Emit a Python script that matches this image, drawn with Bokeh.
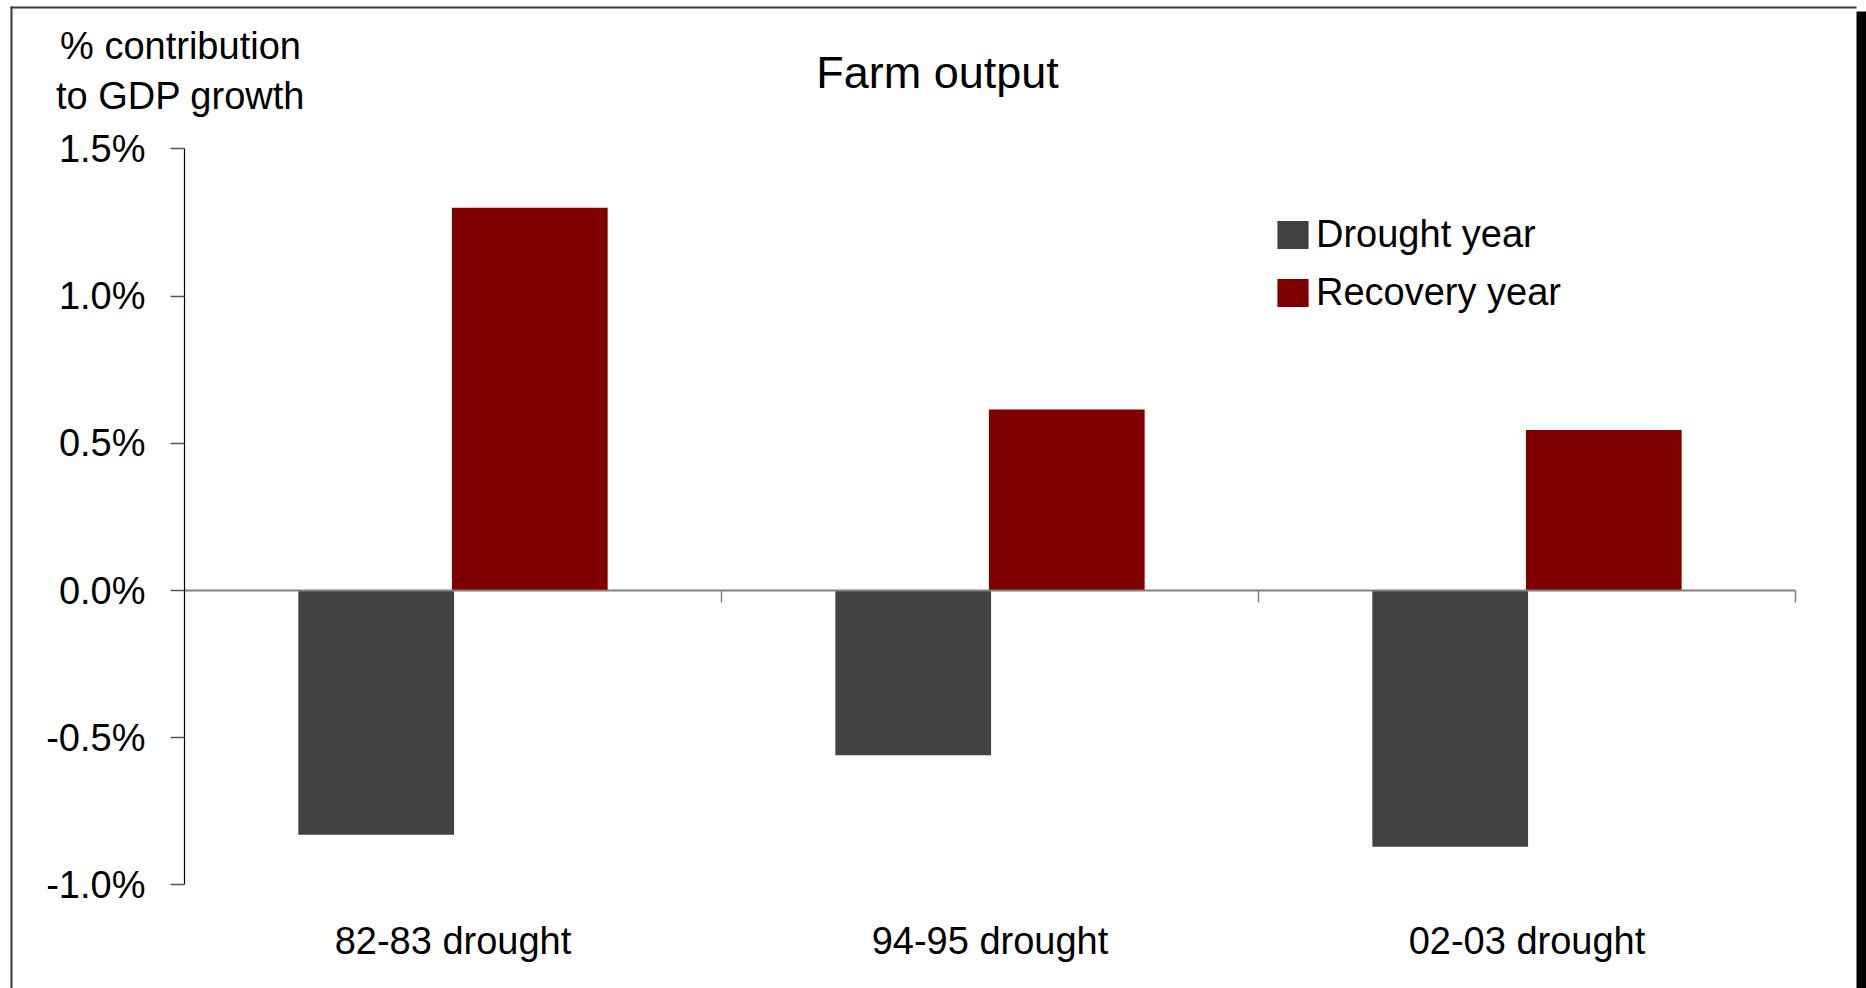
from bokeh.plotting import figure
from bokeh.models import (ColumnDataSource, Range1d, FixedTicker, LinearAxis,
                          PrintfTickFormatter, Label, Legend, LegendItem,
                          BoxAnnotation)
from bokeh.transform import dodge
from bokeh.embed import file_html
from bokeh.resources import INLINE

# ---- data ----
categories = ["82-83 drought", "94-95 drought", "02-03 drought"]
drought_year = [-0.83, -0.56, -0.87]
recovery_year = [1.30, 0.615, 0.545]
y_ticks = [-1.0, -0.5, 0.0, 0.5, 1.0, 1.5]
series_names = ["Drought year", "Recovery year"]
title_text = "Farm output"
y_label_lines = ["% contribution", "to GDP growth"]

FONT = "Liberation Sans"
W, H = 1866, 988
# layout: plot area left/right/top/bottom in canvas pixels
PL, PR, PT, PB = 184, 1795, 148.4, 884.4
y_lo, y_hi = y_ticks[0], y_ticks[-1]
ncat = len(categories)
xpx = (PR - PL) / ncat            # pixels per category
ypx = (PB - PT) / (y_hi - y_lo)   # pixels per unit

x_range = Range1d(-PL / xpx, (W - PL) / xpx)
y_range = Range1d(y_lo - (H - PB) / ypx, y_hi + PT / ypx)

cat_centers = [i + 0.5 for i in range(ncat)]
src = ColumnDataSource(dict(xc=cat_centers, cat=categories,
                            drought=drought_year, recovery=recovery_year))

p = figure(width=W, height=H, output_backend="svg", toolbar_location=None,
           x_range=x_range, y_range=y_range, x_axis_location=None,
           y_axis_location=None, min_border=0, title=None)
p.outline_line_color = None
p.grid.visible = False
p.background_fill_color = "white"
p.border_fill_color = "white"

r1 = p.vbar(x=dodge("xc", -0.143), top="drought", width=0.29,
            source=src, fill_color="#424242", line_color=None)
r2 = p.vbar(x=dodge("xc", 0.143), top="recovery", width=0.29,
            source=src, fill_color="#800000", line_color=None)

# zero line and category boundary ticks
p.segment(x0=[0], x1=[ncat], y0=[0], y1=[0], line_color="#808080", line_width=2)
bx = [float(i) for i in range(1, ncat + 1)]
p.segment(x0=bx, x1=bx, y0=[0] * ncat, y1=[-12 / ypx] * ncat,
          line_color="#808080", line_width=1.5)

# y axis at x = 0
ya = LinearAxis(fixed_location=0, bounds=(y_lo, y_hi))
ya.ticker = FixedTicker(ticks=y_ticks)
ya.formatter = PrintfTickFormatter(format="%.1f%%")
ya.axis_line_color = "#000000"
ya.axis_line_width = 1.2
ya.major_tick_line_color = "#555555"
ya.major_tick_line_width = 1.5
ya.major_tick_out = 14
ya.major_tick_in = 0
ya.minor_tick_line_color = None
ya.major_label_standoff = 25
ya.major_label_text_font = FONT
ya.major_label_text_font_size = "38px"
ya.major_label_text_color = "#000000"
p.add_layout(ya, "left")

# category labels below the plot area
xa = LinearAxis(fixed_location=y_lo)
xa.ticker = FixedTicker(ticks=cat_centers)
xa.major_label_overrides = {c: lab for c, lab in zip(cat_centers, categories)}
xa.axis_line_color = None
xa.major_tick_line_color = None
xa.minor_tick_line_color = None
xa.major_tick_out = 0
xa.major_tick_in = 0
xa.major_label_standoff = 35
xa.major_label_text_font = FONT
xa.major_label_text_font_size = "38px"
xa.major_label_text_color = "#000000"
p.add_layout(xa, "below")

# title and y label (screen units, origin bottom-left of canvas)
p.add_layout(Label(x=937, y=H - 72, x_units="screen", y_units="screen", text=title_text,
                   text_align="center", text_baseline="alphabetic", text_font=FONT,
                   text_font_size="45px", text_color="#000000"))
p.add_layout(Label(x=180, y=H - 45, x_units="screen", y_units="screen", text=y_label_lines[0],
                   text_align="center", text_baseline="alphabetic", text_font=FONT,
                   text_font_size="38px", text_color="#000000"))
p.add_layout(Label(x=180, y=H - 95, x_units="screen", y_units="screen", text=y_label_lines[1],
                   text_align="center", text_baseline="alphabetic", text_font=FONT,
                   text_font_size="38px", text_color="#000000"))

# legend
legend = Legend(items=[LegendItem(label=series_names[0], renderers=[r1]),
                       LegendItem(label=series_names[1], renderers=[r2])],
                location=(1273, 674), orientation="vertical",
                glyph_width=39, glyph_height=35, label_height=35,
                label_standoff=4, spacing=15, padding=0, margin=0,
                border_line_color=None, background_fill_alpha=0,
                label_text_font=FONT, label_text_font_size="38px",
                label_text_color="#000000")
p.add_layout(legend)

# outer chart border with shadow
border_kw = dict(left_units="screen", right_units="screen", top_units="screen",
                 bottom_units="screen", line_color=None, fill_alpha=1.0)
p.add_layout(BoxAnnotation(left=10, right=12, top=H - 6, bottom=0,
                           fill_color="#3a3a3a", **border_kw))
p.add_layout(BoxAnnotation(left=10, right=1856, top=H - 6, bottom=H - 8,
                           fill_color="#3a3a3a", **border_kw))
p.add_layout(BoxAnnotation(left=1856, right=1866, top=H - 11, bottom=0,
                           fill_color="#000000", **border_kw))

open("out.html", "w").write(file_html(p, INLINE))
